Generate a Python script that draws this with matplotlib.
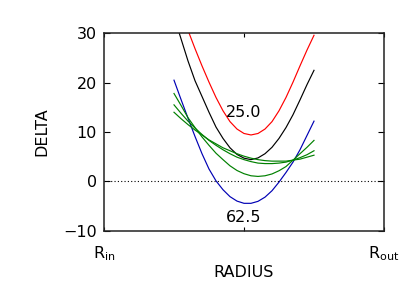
import matplotlib
matplotlib.use("Agg")
import matplotlib.pyplot as plt

# radius grid (fraction between R_in and R_out)
radius = [0.25, 0.275, 0.30, 0.325, 0.35, 0.375, 0.40, 0.425, 0.45, 0.475, 0.50,
          0.525, 0.55, 0.575, 0.60, 0.625, 0.65, 0.675, 0.70, 0.725, 0.75]

delta_red = [38.4, 34.4, 30.6, 26.9, 23.4, 20.1, 17.0, 14.3, 12.1, 10.6, 9.7,
             9.4, 9.7, 10.6, 12.1, 14.3, 17.0, 20.1, 23.4, 26.6, 29.6]
delta_black = [33.4, 28.9, 24.4, 20.4, 17.2, 14.0, 11.0, 8.7, 6.8, 5.45, 4.7,
               4.4, 4.75, 5.6, 6.9, 8.7, 10.9, 13.5, 16.5, 19.6, 22.5]
delta_blue = [20.5, 16.6, 12.8, 9.1, 5.6, 2.5, 0.1, -1.7, -3.1, -4.0, -4.45,
              -4.45, -4.05, -3.2, -1.9, -0.15, 1.8, 3.9, 6.4, 9.3, 12.2]
delta_green1 = [17.8, 15.4, 12.9, 10.9, 9.0, 7.3, 5.7, 4.4, 3.15, 2.2, 1.55,
                1.13, 1.0, 1.13, 1.5, 2.15, 3.0, 4.3, 5.6, 6.9, 8.3]
delta_green2 = [15.5, 13.8, 12.2, 10.8, 9.5, 8.3, 7.3, 6.4, 5.6, 4.9, 4.4,
                4.0, 3.7, 3.6, 3.6, 3.7, 3.9, 4.3, 4.8, 5.4, 6.2]
delta_green3 = [14.0, 12.7, 11.5, 10.4, 9.4, 8.4, 7.6, 6.8, 6.2, 5.6, 5.1,
                4.7, 4.4, 4.2, 4.1, 4.1, 4.1, 4.3, 4.5, 4.9, 5.3]

xtick_pos = [0.0, 0.5, 1.0]
xtick_labels = [r'$\mathregular{R_{in}}$', '', r'$\mathregular{R_{out}}$']
ytick_pos = [-10, 0, 10, 20, 30]
label_top = "25.0"
label_bottom = "62.5"

plt.rcParams['font.family'] = ['DejaVu Sans']
plt.rcParams['axes.unicode_minus'] = True

fig = plt.figure(figsize=(4.15, 2.97), dpi=100)
ax = fig.add_axes([0.2506, 0.2232, 0.9253 - 0.2506, 0.8879 - 0.2232])

lw = 0.85
ax.plot(radius, delta_red, color='#ff0000', lw=lw)
ax.plot(radius, delta_black, color='#000000', lw=lw)
ax.plot(radius, delta_blue, color='#0000b4', lw=lw)
for g in (delta_green1, delta_green2, delta_green3):
    ax.plot(radius, g, color='#008000', lw=lw)

ax.axhline(0, color='black', lw=0.8, linestyle=(0, (1, 2)))

ax.text(0.5, 13.9, label_top, ha='center', va='center', fontsize=11.5)
ax.text(0.5, -7.4, label_bottom, ha='center', va='center', fontsize=11.5)

ax.set_xlim(0, 1)
ax.set_ylim(-10, 30)
ax.set_xticks(xtick_pos)
ax.set_xticklabels(xtick_labels, fontsize=11.5)
ax.set_yticks(ytick_pos)
ax.tick_params(axis='y', direction='in', length=4.5, width=0.8, right=True,
               labelsize=11.5, pad=5)
ax.tick_params(axis='x', direction='in', length=3, width=0.8, top=True,
               labelsize=11.5, pad=10)
ax.set_xlabel('RADIUS', fontsize=11.5, labelpad=1)
ax.set_ylabel('DELTA', fontsize=11.5, labelpad=10)
for s in ax.spines.values():
    s.set_linewidth(1.1)
    s.set_color('#222222')

fig.savefig('out.png', dpi=100)
